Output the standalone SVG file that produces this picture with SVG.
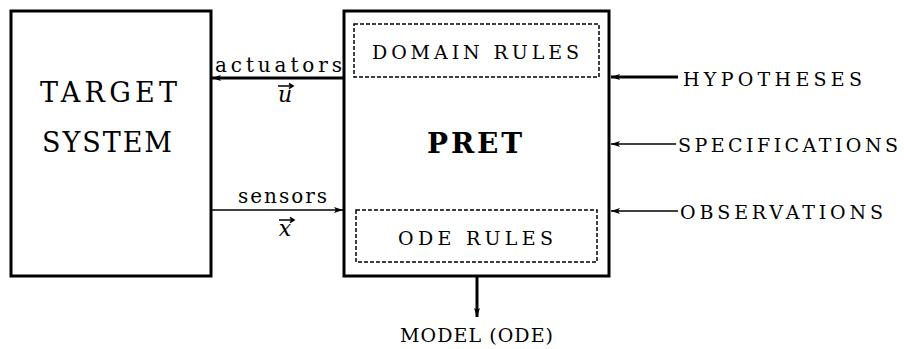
<svg xmlns="http://www.w3.org/2000/svg" width="904" height="349" viewBox="0 0 904 349" font-family="'DejaVu Serif', 'Liberation Serif', serif">
  <style>
    .box { fill: none; stroke: #000; stroke-width: 3; }
    .dash { fill: none; stroke: #000; stroke-width: 1.5; stroke-dasharray: 4 2; }
    .line { stroke: #000; stroke-width: 1.5; fill: none; }
    .thick { stroke: #000; stroke-width: 3; fill: none; }
    text { font-family: "DejaVu Serif", "Liberation Serif", serif; fill: #000; }
    .big { font-size: 27px; }
    .caps { font-size: 19px; }
    .lbl { font-size: 20px; }
    .vec { font-size: 22px; font-style: italic; text-anchor: middle; }
  </style>
  <defs>
    <marker id="arr" viewBox="0 0 9 6" refX="9" refY="3" markerWidth="9" markerHeight="6" markerUnits="userSpaceOnUse" orient="auto">
      <path d="M0,0 L9,3 L0,6 L2,3 Z" fill="#000"/>
    </marker>
  </defs>

  <g id="target-system">
    <rect class="box" x="11" y="11" width="200" height="265"/>
    <text class="big" x="40" y="102" textLength="137" lengthAdjust="spacing">TARGET</text>
    <text class="big" x="42" y="152" textLength="130" lengthAdjust="spacing">SYSTEM</text>
  </g>

  <g id="pret">
    <rect class="box" x="344" y="11" width="265" height="265"/>
    <text x="427" y="153" font-size="28" font-weight="bold" textLength="95" lengthAdjust="spacing">PRET</text>
  </g>

  <g id="domain-rules">
    <rect class="dash" x="354" y="24" width="245" height="53"/>
    <text class="caps" x="372" y="59" textLength="207" lengthAdjust="spacing">DOMAIN RULES</text>
  </g>

  <g id="ode-rules">
    <rect class="dash" x="356" y="210" width="241" height="52"/>
    <text class="caps" x="398" y="245" textLength="155" lengthAdjust="spacing">ODE RULES</text>
  </g>

  <g id="hypotheses">
    <text class="caps" x="683" y="86" textLength="179" lengthAdjust="spacing">HYPOTHESES</text>
  </g>
  <g id="specifications">
    <text class="caps" x="678" y="152" textLength="220" lengthAdjust="spacing">SPECIFICATIONS</text>
  </g>
  <g id="observations">
    <text class="caps" x="680" y="219" textLength="203" lengthAdjust="spacing">OBSERVATIONS</text>
  </g>
  <g id="model">
    <text class="caps" x="400" y="342" textLength="153" lengthAdjust="spacing">MODEL (ODE)</text>
  </g>

  <g id="connectors">
    <line class="thick" x1="344" y1="78" x2="212" y2="78" marker-end="url(#arr)"/>
    <text class="lbl" x="215" y="72" textLength="127" lengthAdjust="spacing">actuators</text>
    <text class="vec" x="285" y="102">u</text>
    <path class="line" d="M278,86 L292,86 M289,83.5 L293,86 L289,88.5"/>

    <line class="line" x1="211" y1="210" x2="343" y2="210" marker-end="url(#arr)"/>
    <text class="lbl" x="238" y="203" textLength="89" lengthAdjust="spacing">sensors</text>
    <text class="vec" x="285" y="236">x</text>
    <path class="line" d="M279,220 L293,220 M290,217.5 L294,220 L290,222.5"/>

    <line class="thick" x1="678" y1="77" x2="611" y2="77" marker-end="url(#arr)"/>
    <line class="line" x1="676" y1="144" x2="611" y2="144" marker-end="url(#arr)"/>
    <line class="line" x1="678" y1="211" x2="611" y2="211" marker-end="url(#arr)"/>

    <line class="thick" x1="477" y1="276" x2="477" y2="317" marker-end="url(#arr)"/>
  </g>
</svg>
